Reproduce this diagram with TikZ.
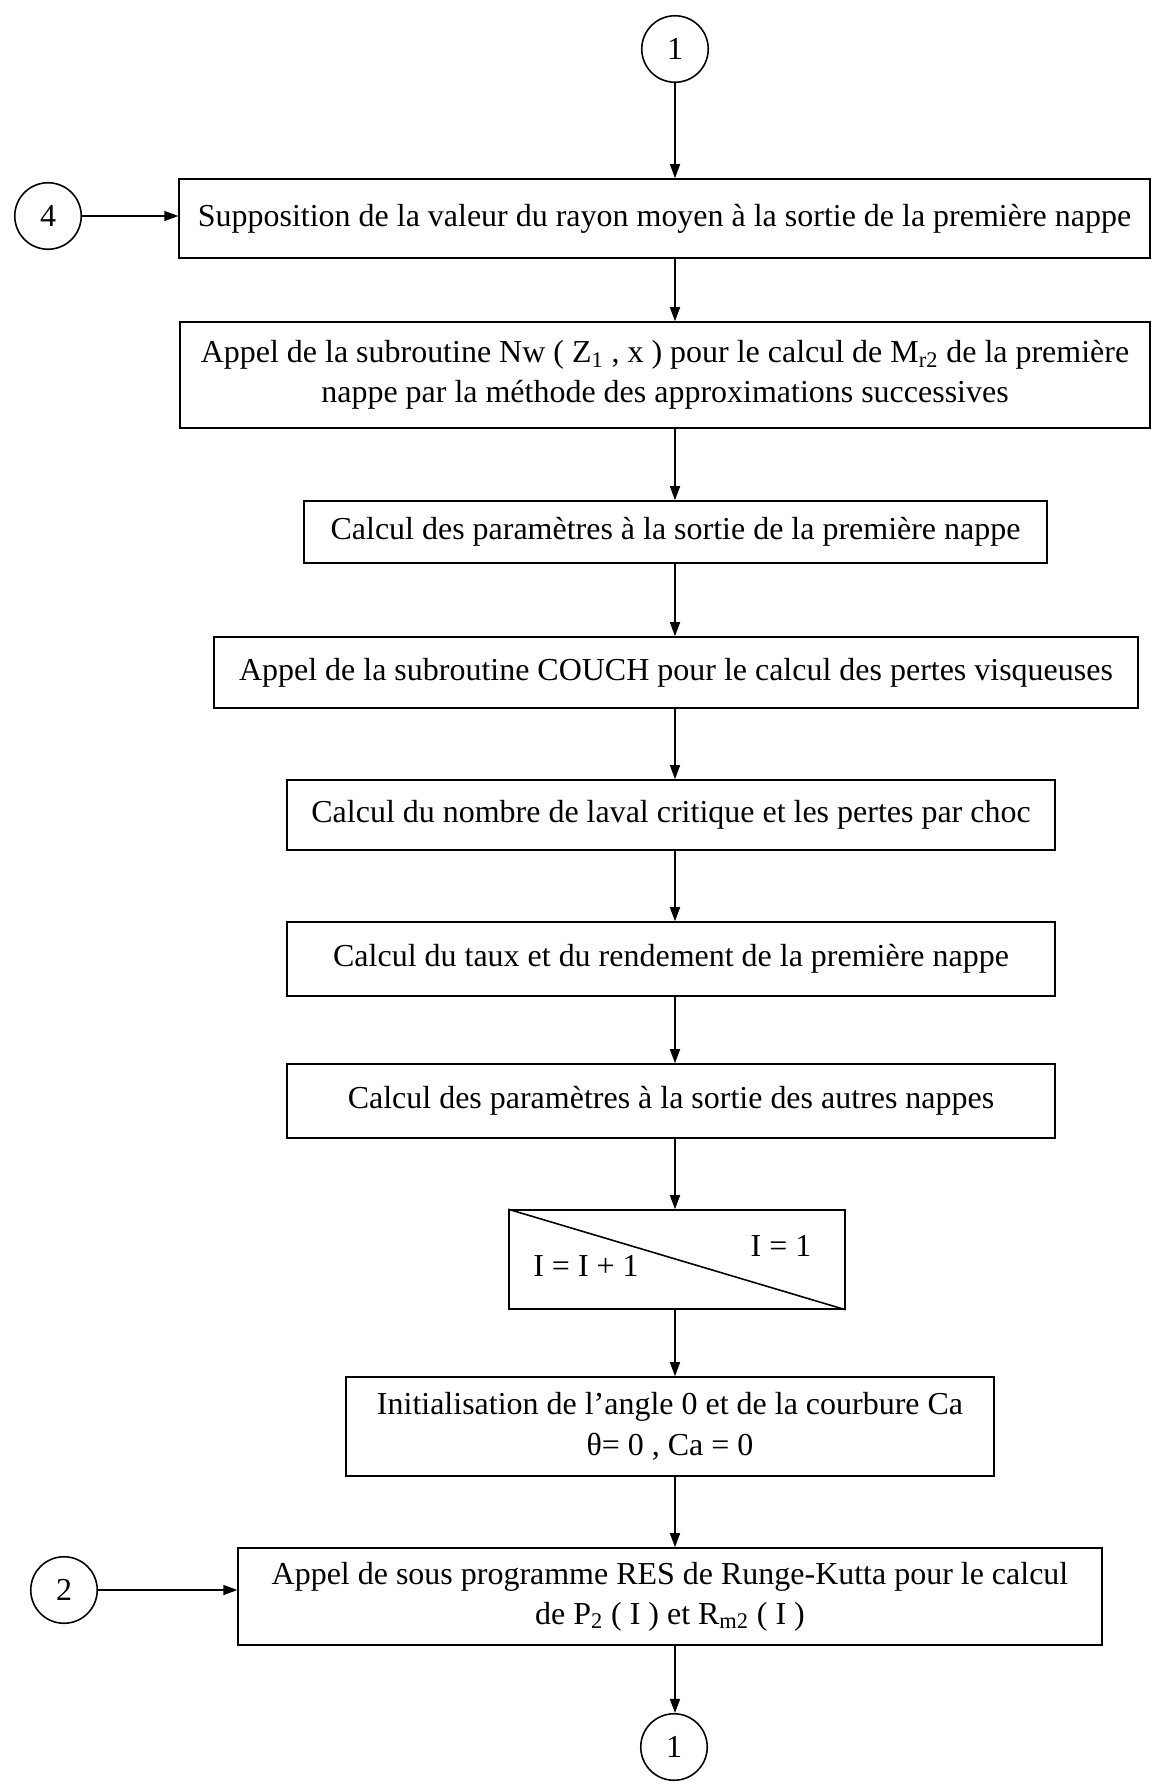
\documentclass[tikz,border=0pt]{standalone}
\usepackage{fontspec}
\setmainfont{Liberation Serif}
\usetikzlibrary{arrows.meta}

\begin{document}
\begin{tikzpicture}[x=0.02cm, y=-0.02cm,
	every node/.style={draw, line width=0.9pt, font=\fontsize{18.2}{23}\selectfont, align=center, inner sep=0pt},
	conn/.style={circle, minimum size=1.33cm},
	txt/.style={draw=none},
	fleche/.style={-{Triangle[length=2.8mm, width=2mm]}, line width=0.8pt}]

\useasboundingbox (0,0) rectangle (1152,1785);

% connecteurs
\node[conn](c1) at(675,49) {1};
\node[conn](c4) at(48,216) {4};
\node[conn](c2) at(64,1590) {2};
\node[conn](c1b) at(674,1747) {1};

% boites
\node[minimum width=19.42cm, minimum height=1.58cm](b1) at(664.5,218.5) {Supposition de la valeur du rayon moyen à la sortie de la première nappe};
\node[minimum width=19.4cm, minimum height=2.12cm](b2) at(665,375) {Appel de la subroutine Nw ( Z\textsubscript{1} , x ) pour le calcul de M\textsubscript{r2} de la première\\nappe par la méthode des approximations successives};
\node[minimum width=14.86cm, minimum height=1.24cm](b3) at(675.5,532) {Calcul des paramètres à la sortie de la première nappe};
\node[minimum width=18.48cm, minimum height=1.42cm](b4) at(676,672.5) {Appel de la subroutine COUCH pour le calcul des pertes visqueuses};
\node[minimum width=15.36cm, minimum height=1.40cm](b5) at(671,815) {Calcul du nombre de laval critique et les pertes par choc};
\node[minimum width=15.36cm, minimum height=1.48cm](b6) at(671,959) {Calcul du taux et du rendement de la première nappe};
\node[minimum width=15.36cm, minimum height=1.48cm](b7) at(671,1101) {Calcul des paramètres à la sortie des autres nappes};
\node[minimum width=6.72cm, minimum height=1.98cm](b8) at(677,1259.5) {};
\node[minimum width=12.96cm, minimum height=1.98cm](b9) at(670,1426.5) {Initialisation de l’angle 0 et de la courbure Ca\\θ= 0 , Ca = 0};
\node[minimum width=17.28cm, minimum height=1.94cm](b10) at(670,1596.5) {Appel de sous programme RES de Runge-Kutta pour le calcul\\de P\textsubscript{2} ( I ) et R\textsubscript{m2} ( I )};

% boucle
\draw[line width=0.9pt] (b8.north west) -- (b8.south east);
\node[txt](iu) at(586,1266) {I = I + 1};
\node[txt](ii) at(781,1246) {I = 1};

\foreach \u \v in {
c1/b1%
,b1/b2%
,b2/b3%
,b3/b4%
,b4/b5%
,b5/b6%
,b6/b7%
,b7/b8%
,b8/b9%
,b9/b10%
,b10/c1b%
}{
	\draw[fleche] (\u.south -| c1) -- (\v.north -| c1);
}

\draw[fleche] (c4.east) -- (c4 -| b1.west);
\draw[fleche] (c2.east) -- (c2 -| b10.west);

\end{tikzpicture}
\end{document}
